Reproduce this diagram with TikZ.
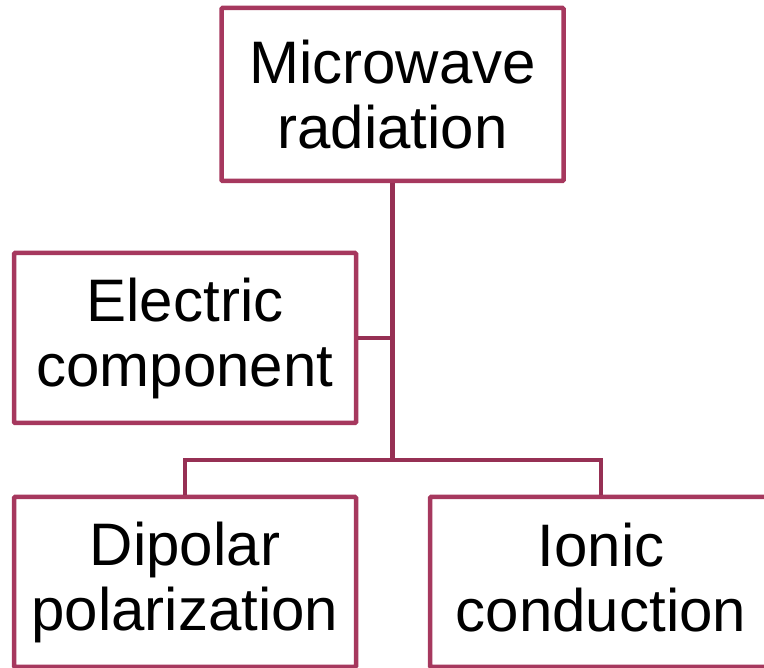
\documentclass[tikz,border=0pt]{standalone}
\usepackage{fontspec}
\setmainfont{Liberation Sans}
\definecolor{boxred}{RGB}{166,56,94}
\definecolor{linered}{RGB}{150,48,84}

\begin{document}
\begin{tikzpicture}[x=1pt,y=1pt,
  boxnode/.style={draw=boxred,line width=4.5pt,rounded corners=1pt,fill=white,
    minimum width=342pt,minimum height=170pt,align=center,
    font=\fontsize{60}{65}\selectfont},
  link/.style={draw=linered,line width=4.3pt}]
\useasboundingbox (0,0) rectangle (764,668) ;
\clip (0,0) rectangle (764,668) ;
\node [boxnode,minimum height=173pt] (mw) at (392.5,573.5) {Microwave\\radiation} ;
\node [boxnode] (elec) at (185,330) {Electric\\component} ;
\node [boxnode] (dip) at (185,86) {Dipolar\\polarization} ;
\node [boxnode] (ion) at (601,86) {Ionic\\conduction\rule[-10pt]{0pt}{10pt}} ;
\coordinate (split) at (392.5,208) ;
\draw [link] (mw.south) -- (split) ;
\draw [link] (elec.east) -- (elec.east -| split) ;
\draw [link] (split) -| (dip.north) ;
\draw [link] (split) -| (ion.north) ;
\end{tikzpicture}
\end{document}
